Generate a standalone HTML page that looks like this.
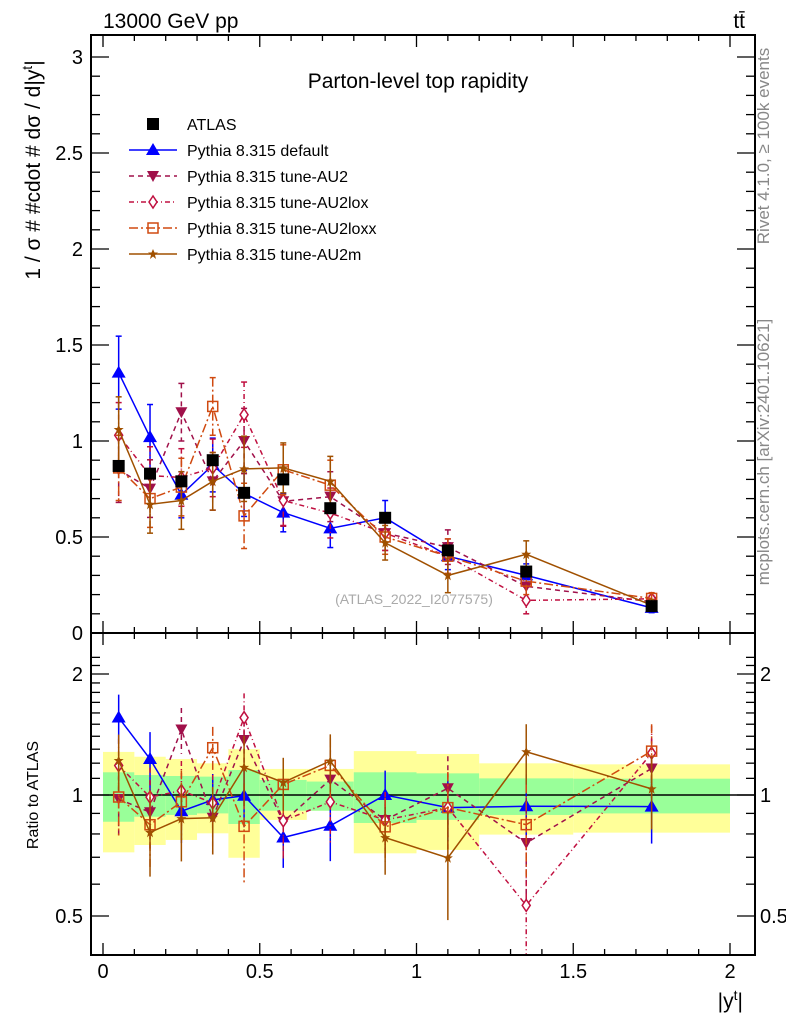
<!DOCTYPE html>
<html><head><meta charset="utf-8"><style>
body{margin:0;background:#fff;width:786px;height:1024px;overflow:hidden}
svg{font-family:"Liberation Sans",sans-serif}
</style></head><body>
<svg id="chart" width="786" height="1024" viewBox="0 0 786 1024" xmlns="http://www.w3.org/2000/svg">
<text x="103" y="28" font-size="21">13000 GeV pp</text>
<text x="745" y="28" font-size="21" text-anchor="end">tt̄</text>
<text x="418" y="88" font-size="21" text-anchor="middle">Parton-level top rapidity</text>
<text transform="translate(769,146) rotate(-90)" font-size="17" fill="#888" text-anchor="middle">Rivet 4.1.0, ≥ 100k events</text>
<text transform="translate(769,452) rotate(-90)" font-size="17" fill="#888" text-anchor="middle">mcplots.cern.ch [arXiv:2401.10621]</text>
<text transform="translate(40,170) rotate(-90)" font-size="21" text-anchor="middle">1 / σ # #cdot # dσ / d|y<tspan dy="-8" font-size="14">t</tspan><tspan dy="8">|</tspan></text>
<text transform="translate(38,795) rotate(-90)" font-size="16" text-anchor="middle">Ratio to ATLAS</text>
<text x="743" y="1008" font-size="21" text-anchor="end">|y<tspan dy="-8" font-size="14">t</tspan><tspan dy="8">|</tspan></text>
<text x="414" y="604" font-size="14" fill="#aaa" text-anchor="middle">(ATLAS_2022_I2077575)</text>
<g id="bands"></g><g id="axes"></g><g id="series"></g><g id="legend"></g>
</svg>
<script>
const edges=[0,0.1,0.2,0.3,0.4,0.5,0.65,0.8,1.0,1.2,1.5,2.0];
const centers=[0.05,0.15,0.25,0.35,0.45,0.575,0.725,0.9,1.1,1.35,1.75];
const atlas=[0.87,0.83,0.79,0.90,0.73,0.80,0.65,0.60,0.43,0.32,0.14];
const yellowUp=[1.28,1.245,1.229,1.199,1.30,1.161,1.161,1.286,1.265,1.199,1.192];
const yellowDn=[0.72,0.751,0.773,0.803,0.698,0.867,0.914,0.716,0.730,0.797,0.806];
const greenUp=[1.139,1.121,1.115,1.111,1.154,1.09,1.08,1.139,1.132,1.10,1.098];
const greenDn=[0.858,0.883,0.892,0.900,0.847,0.914,0.914,0.852,0.867,0.892,0.900];
const vDefault=[1.356,1.02,0.72,0.875,0.727,0.627,0.545,0.60,0.40,0.30,0.131];
const vAU2=[0.85,0.752,1.15,0.79,1.0,0.686,0.71,0.52,0.447,0.243,0.163];
const vAU2lox=[1.03,0.82,0.81,0.86,1.137,0.69,0.625,0.52,0.40,0.17,0.178];
const vAU2loxx=[0.86,0.70,0.76,1.18,0.61,0.85,0.77,0.50,0.40,0.27,0.18];
const vAU2m=[1.06,0.67,0.69,0.79,0.855,0.86,0.79,0.47,0.30,0.41,0.145];
const eDefault=[0.19,0.17,0.12,0.14,0.12,0.1,0.1,0.09,0.07,0.06,0.025];
const eGen=[0.17,0.15,0.15,0.15,0.17,0.13,0.13,0.09,0.09,0.07,0.03];
const yTicks=[0,0.5,1,1.5,2,2.5,3];
const rTicks=[0.5,1,2];
const xTicks=[0,0.5,1,1.5,2];
const NS="http://www.w3.org/2000/svg";
const X=v=>103+313.5*v, Y=v=>633-192*v, R=r=>795-121*Math.log2(r);
function mk(p,tag,at){const e=document.createElementNS(NS,tag);for(const k in at)e.setAttribute(k,at[k]);p.appendChild(e);return e;}
const bands=document.getElementById('bands'),axes=document.getElementById('axes'),ser=document.getElementById('series'),leg=document.getElementById('legend');
for(let i=0;i<centers.length;i++){
 const y=mk(bands,'rect',{x:X(edges[i]),y:R(yellowUp[i]),width:X(edges[i+1])-X(edges[i]),height:R(yellowDn[i])-R(yellowUp[i]),fill:'#ffff99'});
 
 
 const g=mk(bands,'rect',{x:X(edges[i]),y:R(greenUp[i]),width:X(edges[i+1])-X(edges[i]),height:R(greenDn[i])-R(greenUp[i]),fill:'#99ff99'});
 
 
}
mk(axes,'line',{x1:91,x2:755,y1:R(1),y2:R(1),stroke:'#000','stroke-width':1.5});
const f1=mk(axes,'rect',{x:91,y:35,width:664,height:598,fill:'none',stroke:'#000','stroke-width':2});


const f2=mk(axes,'rect',{x:91,y:633,width:664,height:322,fill:'none',stroke:'#000','stroke-width':2});


for(let v=0;v<=2.001;v+=0.1){const maj=Math.abs(v*2-Math.round(v*2))<1e-6;const L=maj?12:6;
 for(const [a,b] of [[633,633-L],[35,35+L],[955,955-L],[633,633+L]])mk(axes,'line',{x1:X(v),x2:X(v),y1:a,y2:b,stroke:'#000','stroke-width':1.3});}
xTicks.forEach(v=>{const t=mk(axes,'text',{x:X(v),y:978,'font-size':20,'text-anchor':'middle'});t.textContent=String(v);
 
 });
for(let v=0;v<=3.001;v+=0.1){const maj=Math.abs(v*2-Math.round(v*2))<1e-6;const L=maj?18:9;
 mk(axes,'line',{x1:91,x2:91+L,y1:Y(v),y2:Y(v),stroke:'#000','stroke-width':1.3});
 mk(axes,'line',{x1:755,x2:755-L,y1:Y(v),y2:Y(v),stroke:'#000','stroke-width':1.3});}
yTicks.forEach(v=>{const t=mk(axes,'text',{x:83,y:Y(v)+7,'font-size':20,'text-anchor':'end'});t.textContent=String(v);
 
 });
for(let v=0.4;v<=2.3;v+=0.1){const yy=R(v);if(yy<633||yy>955)continue;const maj=rTicks.some(r=>Math.abs(r-v)<1e-6);const L=maj?18:9;
 mk(axes,'line',{x1:91,x2:91+L,y1:yy,y2:yy,stroke:'#000','stroke-width':1.3});
 mk(axes,'line',{x1:755,x2:755-L,y1:yy,y2:yy,stroke:'#000','stroke-width':1.3});}
rTicks.forEach(v=>{for(const [x,a] of [[83,'end'],[760,'start']]){const t=mk(axes,'text',{x:x,y:R(v)+7,'font-size':20,'text-anchor':a});t.textContent=String(v);
 
 }});
function marker(p,type,x,y,c){
 if(type==='sq')return mk(p,'rect',{x:x-6,y:y-6,width:12,height:12,fill:'#000'});
 if(type==='up')return mk(p,'polygon',{points:`${x},${y-7} ${x-7},${y+5} ${x+7},${y+5}`,fill:c});
 if(type==='dn')return mk(p,'polygon',{points:`${x},${y+6} ${x-6},${y-5} ${x+6},${y-5}`,fill:c});
 if(type==='di')return mk(p,'polygon',{points:`${x},${y-6} ${x-4},${y} ${x},${y+6} ${x+4},${y}`,fill:'#fff',stroke:c,'stroke-width':1.5});
 if(type==='osq')return mk(p,'rect',{x:x-5,y:y-5,width:10,height:10,fill:'none',stroke:c,'stroke-width':1.5});
 if(type==='st')return mk(p,'polygon',{points:`${x},${y-5} ${x+1.5},${y-1.5} ${x+5},${y-1.5} ${x+2},${y+1} ${x+3},${y+5} ${x},${y+2.5} ${x-3},${y+5} ${x-2},${y+1} ${x-5},${y-1.5} ${x-1.5},${y-1.5}`,fill:c});
}
const series=[
 {name:'default',vals:vDefault,err:eDefault,c:'#0000ff',dash:'',m:'up',label:'Pythia 8.315 default'},
 {name:'au2',vals:vAU2,err:eGen,c:'#a0104a',dash:'5,4',m:'dn',label:'Pythia 8.315 tune-AU2'},
 {name:'au2lox',vals:vAU2lox,err:eGen,c:'#c01040',dash:'5,3,1,3',m:'di',label:'Pythia 8.315 tune-AU2lox'},
 {name:'au2loxx',vals:vAU2loxx,err:eGen,c:'#d04a10',dash:'9,3,2,3',m:'osq',label:'Pythia 8.315 tune-AU2loxx'},
 {name:'au2m',vals:vAU2m,err:eGen,c:'#a05000',dash:'',m:'st',label:'Pythia 8.315 tune-AU2m'}];
series.forEach(s=>{
 const g=mk(ser,'g',{});
 
 
 const mp=centers.map((c,i)=>`${X(c)},${Y(s.vals[i])}`).join(' ');
 const rp=centers.map((c,i)=>`${X(c)},${R(s.vals[i]/atlas[i])}`).join(' ');
 mk(g,'polyline',{points:mp,fill:'none',stroke:s.c,'stroke-width':1.5,'stroke-dasharray':s.dash});
 mk(g,'polyline',{points:rp,fill:'none',stroke:s.c,'stroke-width':1.5,'stroke-dasharray':s.dash});
 centers.forEach((c,i)=>{const x=X(c);
  const v=s.vals[i],e=s.err[i];
  mk(g,'line',{x1:x,x2:x,y1:Y(v+e),y2:Y(Math.max(v-e,0.001)),stroke:s.c,'stroke-width':1.5,'stroke-dasharray':s.dash});
  mk(g,'line',{x1:x-3,x2:x+3,y1:Y(v+e),y2:Y(v+e),stroke:s.c,'stroke-width':1.5});
  mk(g,'line',{x1:x-3,x2:x+3,y1:Y(v-e),y2:Y(v-e),stroke:s.c,'stroke-width':1.5});
  const ru=(v+e)/atlas[i],rd=Math.max((v-e)/atlas[i],0.3);
  mk(g,'line',{x1:x,x2:x,y1:Math.max(R(ru),634),y2:Math.min(R(rd),954),stroke:s.c,'stroke-width':1.5,'stroke-dasharray':s.dash});
  const pm=marker(g,s.m,x,Y(v),s.c);
  
  
  const pr=marker(g,s.m,x,R(v/atlas[i]),s.c);
  
  
 });
});
const dg=mk(ser,'g',{});


centers.forEach((c,i)=>{const p=marker(dg,'sq',X(c),Y(atlas[i]),'#000');
 
 });
const rows=[{label:'ATLAS',m:'sq',c:'#000',line:false}].concat(series.map(s=>({label:s.label,m:s.m,c:s.c,dash:s.dash,line:true})));
rows.forEach((r,i)=>{const y=124+26*i;
 const g=mk(leg,'g',{});
 
 
 if(r.line)mk(g,'line',{x1:129,x2:177,y1:y,y2:y,stroke:r.c,'stroke-width':1.5,'stroke-dasharray':r.dash});
 marker(g,r.m,153,y,r.c);
 const t=mk(g,'text',{x:187,y:y+6,'font-size':16});t.textContent=r.label;
});
</script>
</body></html>
